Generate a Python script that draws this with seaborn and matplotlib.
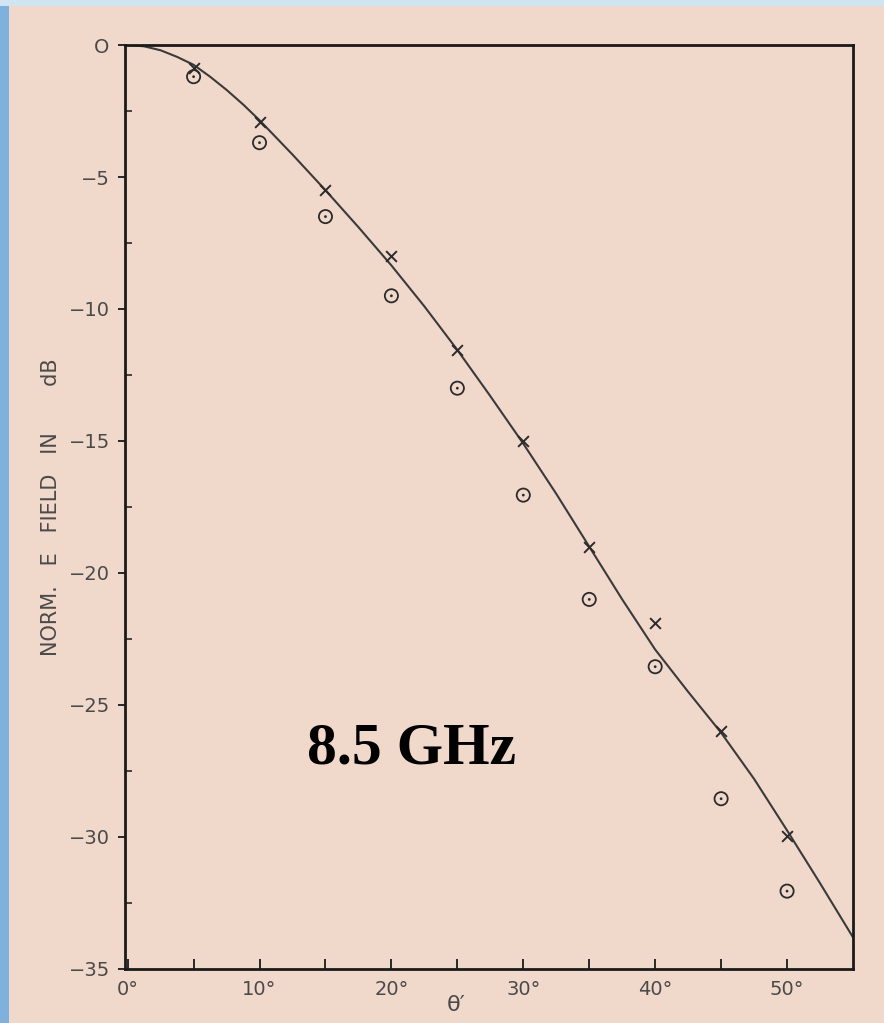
import numpy as np
import pandas as pd
import matplotlib
matplotlib.use("Agg")
import matplotlib.pyplot as plt
from matplotlib.patches import Rectangle
import seaborn as sns

# Theoretical pattern (solid curve), angle in degrees vs normalised field in dB
curve_theta = [0, 1.25, 2.5, 3.75, 5, 6.25, 7.5, 8.75, 10, 12.5, 15, 17.5, 20,
               22.5, 25, 27.5, 30, 32.5, 35, 37.5, 40, 42.5, 45, 47.5, 50,
               52.5, 55]
curve_db = [0, -0.05, -0.2, -0.45, -0.75, -1.2, -1.7, -2.25, -2.85, -4.15,
            -5.5, -6.9, -8.35, -9.9, -11.55, -13.3, -15.1, -17.0, -19.0,
            -21.0, -22.9, -24.5, -26.05, -27.8, -29.75, -31.75, -33.8]

# Measured points
meas_theta = [5, 10, 15, 20, 25, 30, 35, 40, 45, 50]
cross_db = [-0.87, -2.9, -5.5, -8.0, -11.55, -15.0, -19.0, -21.9, -26.0, -29.95]
circle_db = [-1.2, -3.7, -6.5, -9.5, -13.0, -17.05, -21.0, -23.55, -28.55, -32.05]

y_ticks = [0, -5, -10, -15, -20, -25, -30, -35]
x_ticks = [0, 10, 20, 30, 40, 50]
x_ticklabels = ["0°", "10°", "20°", "30°", "40°", "50°"]

paper = "#f0d8cb"
ink = "#2b2b2b"
label_grey = "#4a4a4a"

sns.set_theme(style="white")
plt.rcParams["font.family"] = ["DejaVu Sans"]

fig = plt.figure(figsize=(8.84, 10.23), dpi=100, facecolor=paper)

# slide background strips along the top and left edges
fig.patches.append(Rectangle((0, 0), 9 / 884, 1, transform=fig.transFigure,
                             facecolor="#7fb0de", edgecolor="none", zorder=0))
fig.patches.append(Rectangle((0, 1 - 6 / 1023), 1, 6 / 1023, transform=fig.transFigure,
                             facecolor="#cfe6f2", edgecolor="none", zorder=0))

ax = fig.add_axes([125 / 884, 1 - 969 / 1023, (853 - 125) / 884, (969 - 45) / 1023])
ax.set_facecolor(paper)

curve = pd.DataFrame({"theta": curve_theta, "db": curve_db})
meas = pd.DataFrame({"theta": meas_theta, "cross": cross_db, "circle": circle_db})

sns.lineplot(data=curve, x="theta", y="db", ax=ax, color="#3a3a3a", linewidth=1.5,
             estimator=None, sort=True)
sns.scatterplot(data=meas, x="theta", y="cross", ax=ax, marker="x", s=60,
                color=ink, linewidth=1.4, zorder=3)
sns.scatterplot(data=meas, x="theta", y="circle", ax=ax, marker="o", s=90,
                facecolor="none", edgecolor=ink, linewidth=1.3, zorder=3)
sns.scatterplot(data=meas, x="theta", y="circle", ax=ax, marker="o", s=4,
                color=ink, edgecolor="none", zorder=4)

ax.set_xlim(-0.2, 55)
ax.set_ylim(-35, 0)

for side, sp in ax.spines.items():
    sp.set_visible(True)
    sp.set_color("#1a1a1a")
    sp.set_linewidth(2.0)

ax.set_xticks(x_ticks)
ax.set_xticklabels(x_ticklabels)
ax.set_xticks([5, 15, 25, 35, 45], minor=True)
ax.set_yticks(y_ticks)
ax.set_yticklabels(["O" if v == 0 else f"\u2212{abs(v)}" for v in y_ticks])
ax.set_yticks([-2.5, -7.5, -12.5, -17.5, -22.5, -27.5, -32.5], minor=True)

ax.tick_params(axis="x", which="both", direction="in", length=7, width=1.3,
               color="#1a1a1a", bottom=True, top=False, pad=8,
               labelsize=14, labelcolor=label_grey)
ax.tick_params(axis="y", which="major", direction="out", length=5, width=1.3,
               color="#1a1a1a", left=True, right=False, pad=6,
               labelsize=14, labelcolor=label_grey)
ax.tick_params(axis="y", which="minor", direction="in", length=5, width=1.1,
               color="#1a1a1a", left=True, right=False)

ax.set_xlabel("θ\u2032", fontsize=16, color=label_grey, labelpad=-4)
ax.xaxis.set_label_coords(0.455, -0.028)
ax.set_ylabel("NORM.   E   FIELD   IN       dB", fontsize=15, color=label_grey)
ax.yaxis.set_label_coords(-0.088, 0.50)

ax.text(21.5, -26.7, "8.5 GHz", fontsize=43, fontweight="bold",
        family="Liberation Serif", color="black", ha="center", va="center")

fig.savefig("out.png", dpi=100, facecolor=fig.get_facecolor())
